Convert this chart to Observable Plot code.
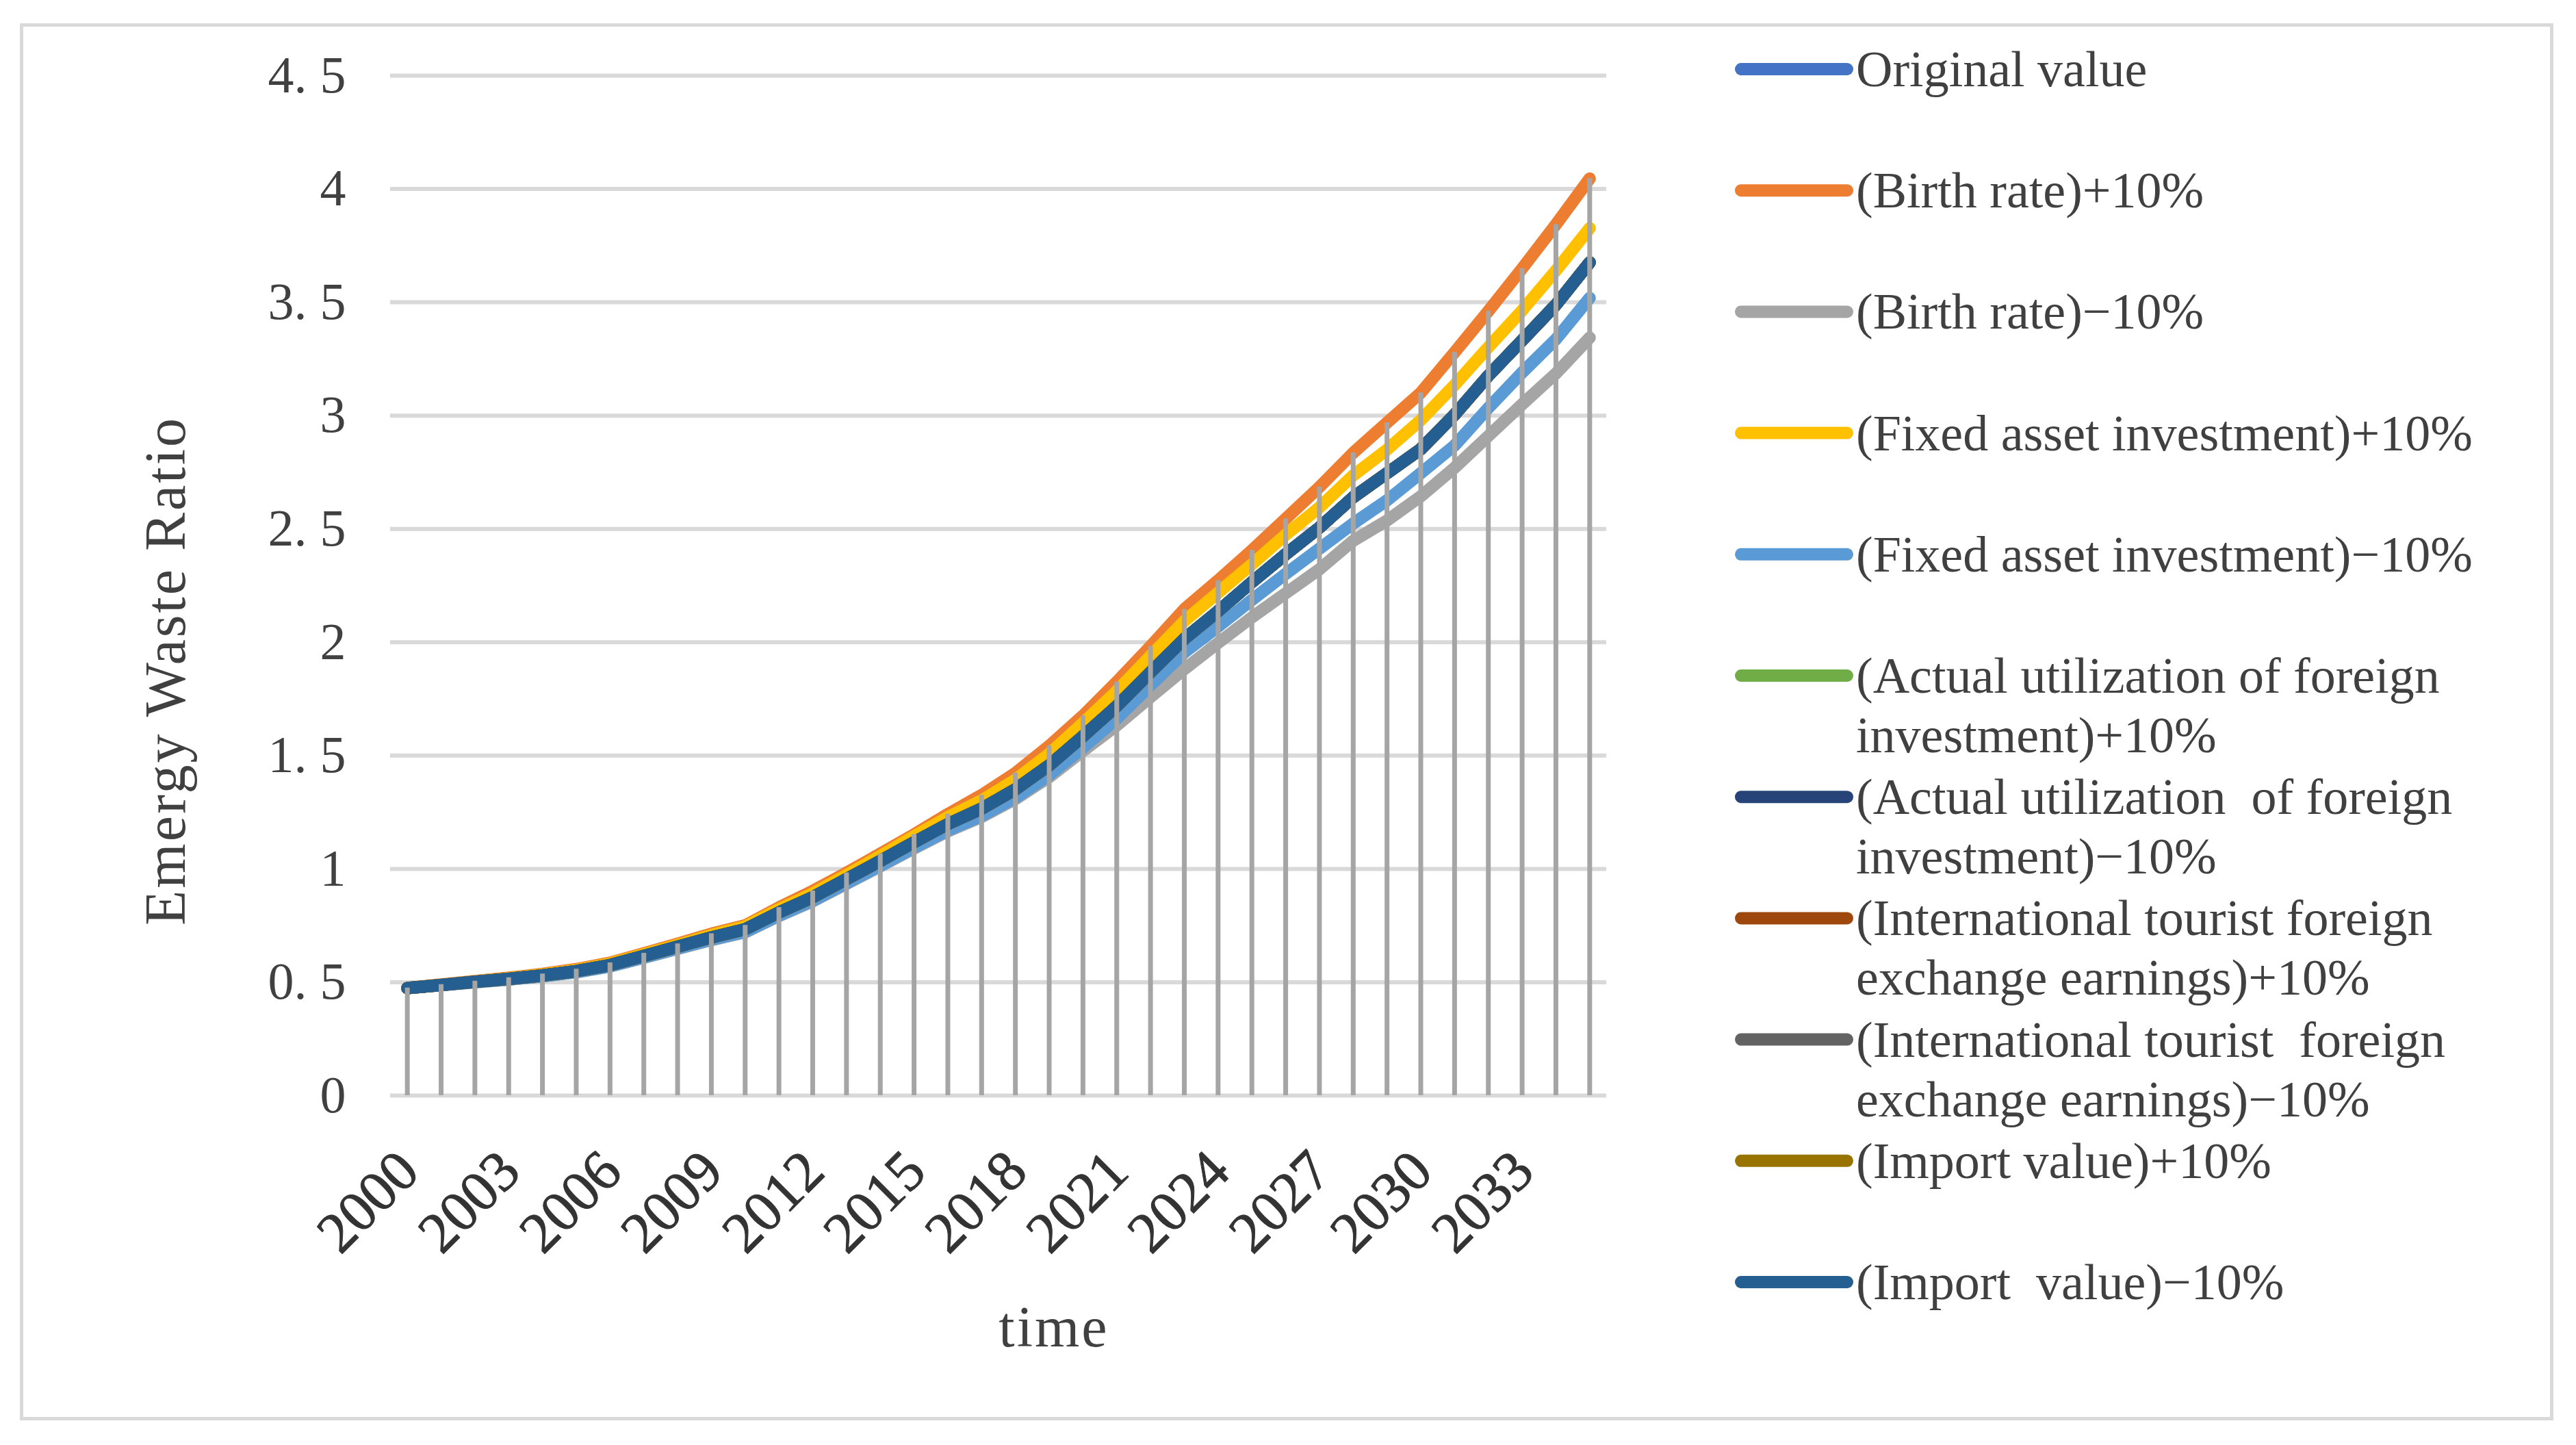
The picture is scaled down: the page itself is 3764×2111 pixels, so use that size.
<!DOCTYPE html>
<html>
<head>
<meta charset="utf-8">
<script src="https://cdn.jsdelivr.net/npm/d3@7"></script>
<script src="https://cdn.jsdelivr.net/npm/@observablehq/plot@0.6"></script>
<style>
  html, body { margin: 0; padding: 0; background: #fff; }
  #page { position: relative; width: 3764px; height: 2111px; overflow: hidden; background: #fff; }
  #chart { position: absolute; left: 0; top: 0; width: 2450px; height: 2111px; }
  #overlay { position: absolute; left: 0; top: 0; }
  #frame { position: absolute; left: 29px; top: 34px; width: 3702px; height: 2041px;
           border: 5px solid #D9D9D9; box-sizing: border-box; pointer-events: none; }
</style>
</head>
<body>
<div id="page">
  <div id="chart"></div>
  <svg id="overlay" width="3764" height="2111"></svg>
  <div id="frame"></div>
</div>
<script>
// ---------- DATA ----------
const years = [2000, 2001, 2002, 2003, 2004, 2005, 2006, 2007, 2008, 2009,
               2010, 2011, 2012, 2013, 2014, 2015, 2016, 2017, 2018, 2019,
               2020, 2021, 2022, 2023, 2024, 2025, 2026, 2027, 2028, 2029,
               2030, 2031, 2032, 2033, 2034, 2035];

const xTickYears = [2000, 2003, 2006, 2009, 2012, 2015, 2018, 2021, 2024, 2027, 2030, 2033];
const yTicks = [0, 0.5, 1, 1.5, 2, 2.5, 3, 3.5, 4, 4.5];
const yTickLabels = ["0", "0. 5", "1", "1. 5", "2", "2. 5", "3", "3. 5", "4", "4. 5"];

// middle line (original / import / foreign investment / tourism scenarios overlap here)
const originalValue = [0.474, 0.488, 0.502, 0.515, 0.530, 0.549, 0.576, 0.616, 0.657, 0.698,
                       0.734, 0.808, 0.875, 0.955, 1.035, 1.118, 1.198, 1.266, 1.351, 1.457,
                       1.585, 1.718, 1.868, 2.015, 2.137, 2.265, 2.388, 2.506, 2.640, 2.746,
                       2.852, 3.004, 3.176, 3.332, 3.489, 3.676];
const birthPlus = [0.475, 0.490, 0.505, 0.520, 0.537, 0.558, 0.586, 0.628, 0.670, 0.714,
                   0.751, 0.830, 0.903, 0.983, 1.067, 1.152, 1.242, 1.326, 1.423, 1.543,
                   1.676, 1.825, 1.982, 2.146, 2.273, 2.406, 2.545, 2.685, 2.836, 2.969,
                   3.101, 3.279, 3.461, 3.649, 3.843, 4.046];
const birthMinus = [0.474, 0.487, 0.500, 0.512, 0.526, 0.544, 0.570, 0.608, 0.647, 0.686,
                    0.720, 0.792, 0.857, 0.934, 1.011, 1.090, 1.166, 1.229, 1.308, 1.405,
                    1.520, 1.633, 1.758, 1.881, 1.997, 2.110, 2.216, 2.322, 2.448, 2.537,
                    2.644, 2.770, 2.910, 3.050, 3.186, 3.344];
const fixedPlus = [0.474, 0.489, 0.504, 0.518, 0.534, 0.554, 0.582, 0.623, 0.665, 0.708,
                   0.746, 0.822, 0.891, 0.973, 1.057, 1.144, 1.228, 1.302, 1.393, 1.507,
                   1.643, 1.784, 1.940, 2.093, 2.219, 2.344, 2.474, 2.595, 2.736, 2.850,
                   2.980, 3.135, 3.302, 3.464, 3.640, 3.827];
const fixedMinus = [0.474, 0.487, 0.500, 0.512, 0.526, 0.544, 0.570, 0.609, 0.649, 0.688,
                    0.722, 0.794, 0.859, 0.937, 1.014, 1.094, 1.170, 1.234, 1.314, 1.414,
                    1.535, 1.663, 1.810, 1.955, 2.069, 2.187, 2.302, 2.413, 2.524, 2.626,
                    2.746, 2.868, 3.034, 3.190, 3.337, 3.519];
const actualPlus = originalValue;   // hidden under the middle line
const actualMinus = originalValue;  // hidden under the middle line
const tourismPlus = originalValue;  // hidden under the middle line
const tourismMinus = originalValue; // hidden under the middle line
const importPlus = originalValue;   // hidden under the middle line
const importMinus = originalValue;  // drawn last, on top

const seriesNames = [
  "Original value",
  "(Birth rate)+10%",
  "(Birth rate)\u221210%",
  "(Fixed asset investment)+10%",
  "(Fixed asset investment)\u221210%",
  "(Actual utilization of foreign investment)+10%",
  "(Actual utilization of foreign investment)\u221210%",
  "(International tourist foreign exchange earnings)+10%",
  "(International tourist foreign exchange earnings)\u221210%",
  "(Import value)+10%",
  "(Import value)\u221210%"
];
const legendLines = [
  ["Original value"],
  ["(Birth rate)+10%"],
  ["(Birth rate)\u221210%"],
  ["(Fixed asset investment)+10%"],
  ["(Fixed asset investment)\u221210%"],
  ["(Actual utilization of foreign", "investment)+10%"],
  ["(Actual utilization  of foreign", "investment)\u221210%"],
  ["(International tourist foreign", "exchange earnings)+10%"],
  ["(International tourist  foreign", "exchange earnings)\u221210%"],
  ["(Import value)+10%"],
  ["(Import  value)\u221210%"]
];
const seriesColors = ["#4472C4", "#ED7D31", "#A5A5A5", "#FFC000", "#5B9BD5", "#70AD47",
                      "#264478", "#9E480E", "#636363", "#997300", "#255E91"];
const seriesValues = [originalValue, birthPlus, birthMinus, fixedPlus, fixedMinus, actualPlus,
                      actualMinus, tourismPlus, tourismMinus, importPlus, importMinus];

// ---------- BUILD ----------
const rows = [];
seriesNames.forEach((name, i) => {
  seriesValues[i].forEach((v, j) => rows.push({series: name, idx: i, year: years[j], value: v}));
});
const dropRows = years.map((y, j) => ({year: y, max: d3.max(seriesValues, s => s[j])}));

const FONT = "'Liberation Serif', 'DejaVu Serif', serif";
const TEXT = "#404040";

const chart = Plot.plot({
  width: 2450,
  height: 2111,
  marginLeft: 570,
  marginRight: 103,
  marginTop: 110,
  marginBottom: 511,
  x: {type: "linear", domain: [1999.5, 2035.5], axis: null},
  y: {type: "linear", domain: [0, 4.5], axis: null},
  style: {fontFamily: FONT, fontSize: "76px", color: TEXT, background: "transparent", overflow: "visible"},
  marks: [
    Plot.ruleY(yTicks, {stroke: "#D9D9D9", strokeWidth: 6}),
    ...seriesNames.map((name, i) =>
      Plot.line(rows.filter(r => r.idx === i), {
        x: "year", y: "value", stroke: seriesColors[i], strokeWidth: 18,
        strokeLinecap: "round", strokeLinejoin: "round"
      })
    ),
    Plot.ruleX(dropRows, {x: "year", y1: 0, y2: "max", stroke: "#A5A5A5", strokeWidth: 7}),
    Plot.text(yTicks, {
      x: () => 1999.5, y: d => d, text: (d, i) => yTickLabels[i],
      textAnchor: "end", dx: -65, fill: TEXT, fontSize: 76
    }),
    Plot.text(xTickYears, {
      x: d => d, y: () => 0, text: d => String(d), rotate: -45,
      textAnchor: "end", lineAnchor: "middle", dx: 2, dy: 96, fill: "#333333", fontSize: 84,
      stroke: "#333333", strokeWidth: 1
    })
  ]
});
document.getElementById("chart").appendChild(chart);

// ---------- TITLES & LEGEND ----------
const svg = d3.select("#overlay");
svg.append("text")
  .attr("transform", "translate(241,980) rotate(-90)")
  .attr("text-anchor", "middle").attr("dominant-baseline", "central")
  .attr("font-family", FONT).attr("font-size", 84).attr("letter-spacing", 3)
  .attr("fill", TEXT).text("Emergy Waste Ratio");
svg.append("text")
  .attr("x", 1540).attr("y", 1938)
  .attr("text-anchor", "middle").attr("dominant-baseline", "central")
  .attr("font-family", FONT).attr("font-size", 84).attr("letter-spacing", 3)
  .attr("fill", TEXT).text("time");

const leg = svg.append("g");
legendLines.forEach((lines, k) => {
  const cy = 101 + 177.2 * k;
  leg.append("line")
    .attr("x1", 2544).attr("x2", 2699).attr("y1", cy).attr("y2", cy)
    .attr("stroke", seriesColors[k]).attr("stroke-width", 18).attr("stroke-linecap", "round");
  lines.forEach((t, li) => {
    leg.append("text")
      .attr("x", 2712).attr("y", cy + li * 87)
      .attr("dominant-baseline", "central")
      .attr("font-family", FONT).attr("font-size", 74)
      .attr("fill", TEXT).attr("xml:space", "preserve").style("white-space", "pre")
      .text(t);
  });
});
</script>
</body>
</html>
